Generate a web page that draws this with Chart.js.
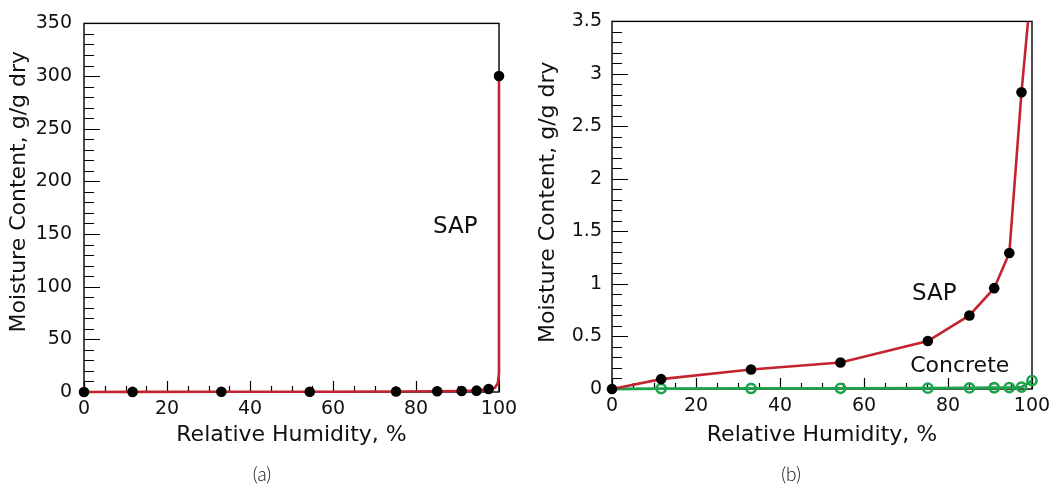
<!DOCTYPE html>
<html>
<head>
<meta charset="utf-8">
<script src="https://cdn.jsdelivr.net/npm/chart.js@4"></script>
<style>
  body { margin: 0; background: #fff; }
  #wrap { position: relative; width: 1057px; height: 489px; }
  canvas { position: absolute; top: 0; }
</style>
</head>
<body>
<div id="wrap">
  <canvas id="chartA" width="528" height="489" style="left:0"></canvas>
  <canvas id="chartB" width="528" height="489" style="left:529px"></canvas>
</div>
<script>
// measured points (relative humidity %, moisture content g/g dry)
const rhPoints = [0, 11.7, 33.1, 54.4, 75.2, 85.1, 91.0, 94.6, 97.5];
const sapPoints = [0, 0.094, 0.185, 0.253, 0.457, 0.70, 0.96, 1.295, 2.825];

// panel (a) also has the 100 % point
const rhPointsA = [0, 11.7, 33.1, 54.4, 75.2, 85.1, 91.0, 94.6, 97.5, 100];
const sapPointsA = [0, 0.094, 0.185, 0.253, 0.457, 0.70, 0.96, 1.295, 2.825, 300];

// fitted SAP curve
const rhFitA = [0, 11.7, 33.1, 54.4, 75.2, 85.1, 91.0, 94.6, 97.5, 99.0, 99.7, 100, 100];
const sapFitA = [0, 0.09, 0.19, 0.25, 0.46, 0.70, 0.96, 1.3, 2.8, 4, 8, 18, 300];
const rhFitB = [0, 11.7, 33.1, 54.4, 75.2, 85.1, 91.0, 94.6, 97.5, 99.05];
const sapFitB = [0, 0.094, 0.185, 0.253, 0.457, 0.70, 0.96, 1.295, 2.825, 3.5];

// concrete (open circles, panel b)
const rhConcrete = [0, 11.7, 33.1, 54.4, 75.2, 85.1, 91.0, 94.6, 97.5, 100];
const concrete = [0, 0.004, 0.005, 0.006, 0.008, 0.01, 0.012, 0.014, 0.018, 0.08];

const RED = '#c42430';
const GREEN = '#1ea34c';
const FONT = '"DejaVu Sans", sans-serif';

const pts = (xs, ys) => xs.map((x, i) => ({ x: x, y: ys[i] }));

// frame, inward ticks and the text labels
const frameTicks = {
  id: 'frameTicks',
  beforeDatasetsDraw(chart, args, o) {
    const { ctx, chartArea: a, scales: { x, y } } = chart;
    ctx.save();
    ctx.strokeStyle = '#000';
    ctx.lineWidth = 1.4;
    ctx.strokeRect(a.left, a.top, a.right - a.left, a.bottom - a.top);
    ctx.lineWidth = 1.2;
    ctx.beginPath();
    for (let i = 0; i * o.xMinor <= x.max + 1e-9; i++) {
      const px = Math.round(x.getPixelForValue(i * o.xMinor)) + 0.5;
      const len = (i % o.xEvery === 0) ? 11 : 6;
      ctx.moveTo(px, a.bottom);
      ctx.lineTo(px, a.bottom - len);
    }
    for (let i = 0; i * o.yMinor <= y.max + 1e-9; i++) {
      const py = Math.round(y.getPixelForValue(i * o.yMinor)) + 0.5;
      const len = (i % o.yEvery === 0) ? 16 : 10;
      ctx.moveTo(a.left, py);
      ctx.lineTo(a.left + len, py);
    }
    ctx.stroke();
    ctx.restore();
  },
  afterDraw(chart, args, o) {
    const { ctx, chartArea: a, scales: { x, y } } = chart;
    ctx.save();
    ctx.fillStyle = '#111';
    // axis titles
    ctx.font = '22px ' + FONT;
    ctx.textAlign = 'center';
    ctx.textBaseline = 'middle';
    ctx.fillText('Relative Humidity, %', (a.left + a.right) / 2, 435);
    ctx.save();
    ctx.translate(19, (a.top + a.bottom) / 2 + o.yTitleShift);
    ctx.rotate(-Math.PI / 2);
    ctx.fillText('Moisture Content, g/g dry', 0, 0);
    ctx.restore();
    // series labels
    ctx.textAlign = 'left';
    o.labels.forEach(l => {
      ctx.font = l.size + 'px ' + FONT;
      ctx.fillText(l.text, x.getPixelForValue(l.x), y.getPixelForValue(l.y));
    });
    // panel letter
    ctx.font = '300 19px Lato, sans-serif';
    ctx.textAlign = 'center';
    ctx.fillText(o.panel, 262, 475);
    ctx.restore();
  }
};

function scales(yMax, yStep, leftW, bottomH, yPad) {
  return {
    x: {
      type: 'linear', min: 0, max: 100,
      grid: { display: false, drawTicks: false },
      border: { display: false },
      ticks: { stepSize: 20, padding: 6, color: '#111', font: { family: FONT, size: 19 } },
      afterFit: s => { s.height = bottomH; }
    },
    y: {
      type: 'linear', min: 0, max: yMax,
      grid: { display: false, drawTicks: false },
      border: { display: false },
      ticks: {
        stepSize: yStep, padding: yPad, color: '#111', font: { family: FONT, size: 19 },
        callback: v => String(Math.round(v * 10) / 10)
      },
      afterFit: s => { s.width = leftW; }
    }
  };
}

const common = {
  responsive: false,
  animation: false,
  devicePixelRatio: 1,
  plugins: { legend: { display: false }, tooltip: { enabled: false } }
};

new Chart(document.getElementById('chartA'), {
  type: 'scatter',
  data: {
    datasets: [
      {
        data: pts(rhPointsA, sapPointsA), showLine: false, clip: false,
        pointRadius: 5.3, pointBackgroundColor: '#000', pointBorderWidth: 0, order: 0
      },
      {
        data: pts(rhFitA, sapFitA), showLine: true, clip: false, borderColor: RED, borderWidth: 2.6,
        pointRadius: 0, tension: 0, order: 1
      }
    ]
  },
  options: Object.assign({}, common, {
    layout: { padding: { left: 0, top: 19, right: 29, bottom: 0 } },
    scales: scales(350, 50, 84, 97, 12),
    plugins: Object.assign({}, common.plugins, {
      frameTicks: {
        xMinor: 5, xEvery: 4, yMinor: 10, yEvery: 5, yTitleShift: -16, panel: '(a)',
        labels: [{ text: 'SAP', x: 84.1, y: 157, size: 23 }]
      }
    })
  }),
  plugins: [frameTicks]
});

new Chart(document.getElementById('chartB'), {
  type: 'scatter',
  data: {
    datasets: [
      {
        data: pts(rhPoints, sapPoints), showLine: false, clip: false,
        pointRadius: 5.3, pointBackgroundColor: '#000', pointBorderWidth: 0, order: 0
      },
      {
        data: pts(rhFitB, sapFitB), showLine: true, borderColor: RED, borderWidth: 2.6,
        pointRadius: 0, tension: 0, order: 1
      },
      {
        data: pts(rhConcrete, concrete), showLine: true, clip: false,
        borderColor: GREEN, borderWidth: 2.8, tension: 0,
        pointRadius: ctx => ctx.dataIndex === 0 ? 0 : 4.6,
        pointBorderColor: GREEN, pointBackgroundColor: 'rgba(0,0,0,0)', pointBorderWidth: 2.6,
        order: 2
      }
    ]
  },
  options: Object.assign({}, common, {
    layout: { padding: { left: 0, top: 16, right: 25, bottom: 0 } },
    scales: scales(3.5, 0.5, 83, 100, 10),
    plugins: Object.assign({}, common.plugins, {
      frameTicks: {
        xMinor: 5, xEvery: 4, yMinor: 0.1, yEvery: 5, yTitleShift: -3, panel: '(b)',
        labels: [
          { text: 'SAP', x: 71.4, y: 0.9, size: 23 },
          { text: 'Concrete', x: 71.0, y: 0.22, size: 22 }
        ]
      }
    })
  }),
  plugins: [frameTicks]
});
</script>
</body>
</html>
